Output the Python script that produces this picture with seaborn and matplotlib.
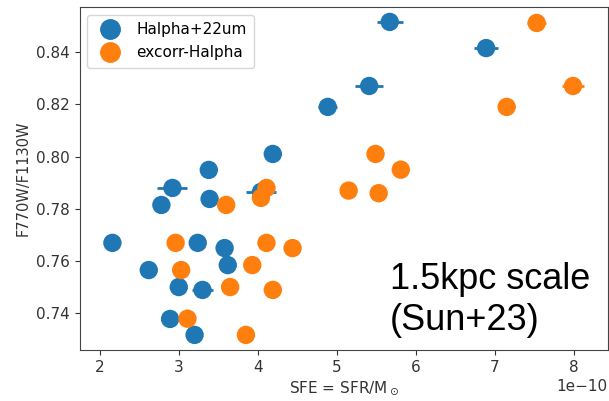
import numpy as np
import pandas as pd
import matplotlib
matplotlib.use("Agg")
import matplotlib.pyplot as plt
import seaborn as sns

# SFE values (units of 1e-10)
blue_x = [5.67, 6.89, 5.41, 4.886, 4.19, 3.38, 2.92, 3.39, 2.78, 2.16, 3.24, 3.58, 3.62, 2.62, 3.00, 3.30, 2.89, 3.20, 4.04]
blue_y = [0.8515, 0.8415, 0.827, 0.819, 0.801, 0.7949, 0.788, 0.7838, 0.7815, 0.767, 0.767, 0.765, 0.7585, 0.7566, 0.7501, 0.749, 0.7379, 0.7318, 0.7865]
blue_xerr = [0.165, 0.15, 0.175, 0.12, 0.10, 0.08, 0.19, 0.08, 0.08, 0.08, 0.08, 0.08, 0.08, 0.08, 0.10, 0.13, 0.08, 0.08, 0.19]

orange_x = [7.53, 7.99, 7.15, 5.49, 5.81, 5.15, 5.53, 4.11, 4.04, 3.60, 2.96, 4.11, 4.44, 3.03, 3.93, 3.65, 4.19, 3.11, 3.85]
orange_y = [0.8511, 0.827, 0.819, 0.801, 0.795, 0.787, 0.786, 0.788, 0.7842, 0.7815, 0.767, 0.767, 0.765, 0.7566, 0.7585, 0.7501, 0.749, 0.738, 0.7318]
orange_xerr = [0.12, 0.14, 0.11, 0.08, 0.08, 0.08, 0.08, 0.08, 0.08, 0.08, 0.08, 0.08, 0.08, 0.08, 0.08, 0.08, 0.08, 0.08, 0.08]

labels = ["Halpha+22um", "excorr-Halpha"]
colors = ["#1f77b4", "#ff7f0e"]

df = pd.DataFrame({
    "x": np.array(blue_x + orange_x) * 1e-10,
    "y": blue_y + orange_y,
    "xerr": np.array(blue_xerr + orange_xerr) * 1e-10,
    "series": [labels[0]] * len(blue_x) + [labels[1]] * len(orange_x),
})

fig = plt.figure(figsize=(6.09, 4.01), dpi=100)
ax = fig.add_axes([0.131, 0.127, 0.867, 0.8555])

for lab, col in zip(labels, colors):
    sub = df[df.series == lab]
    ax.errorbar(sub.x, sub.y, xerr=sub.xerr, fmt="none", ecolor=col, elinewidth=2, zorder=1)

sns.scatterplot(data=df, x="x", y="y", hue="series", palette=colors, s=175,
                linewidth=0, ax=ax, zorder=2, legend=False)

handles = [plt.Line2D([], [], marker="o", ls="", color=c, markersize=14) for c in colors]
leg = ax.legend(handles, labels, loc="upper left", fontsize=11, frameon=True,
                borderpad=0.5, handletextpad=0.7, bbox_to_anchor=(0.0, 1.0))

ax.set_xlim(1.747e-10, 8.43e-10)
ax.set_ylim(0.726, 0.8572)
ax.set_xticks(np.arange(2, 9) * 1e-10)
ax.set_yticks([0.74, 0.76, 0.78, 0.80, 0.82, 0.84])
ax.tick_params(labelsize=11, colors="#333333")
ax.set_xlabel(r"SFE = SFR/M$_\odot$", fontsize=11, color="#333333", labelpad=3)
ax.set_ylabel("F770W/F1130W", fontsize=10.5, color="#333333")
ax.xaxis.get_offset_text().set_fontsize(11)
ax.xaxis.get_offset_text().set_color("#333333")
for sp in ax.spines.values():
    sp.set_color("#444444")

ax.text(0.588, 0.035, "1.5kpc scale\n(Sun+23)", transform=ax.transAxes,
        fontsize=26, family=["Liberation Sans", "DejaVu Sans"], color="black",
        linespacing=1.22, va="bottom", ha="left")

fig.savefig("out.png", dpi=100)
